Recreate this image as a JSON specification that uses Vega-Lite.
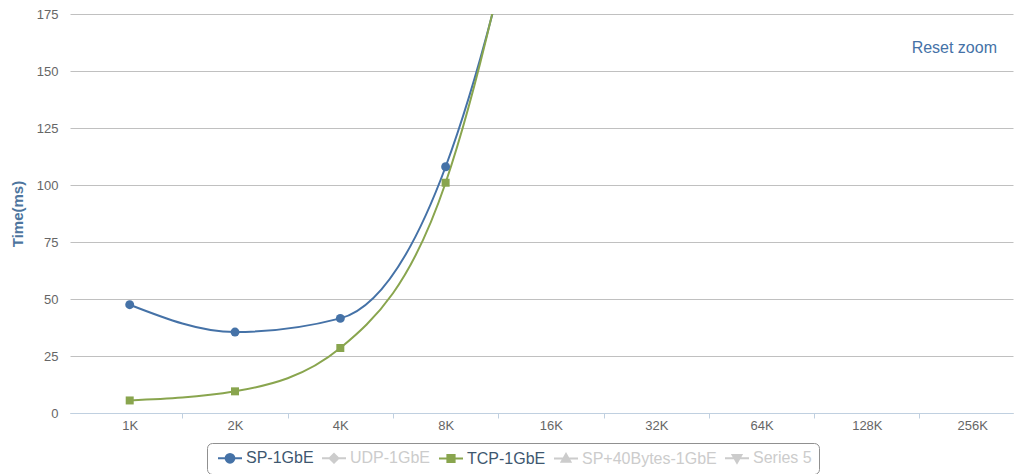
{
  "$schema": "https://vega.github.io/schema/vega-lite/v6.json",
  "width": 943,
  "height": 399,
  "autosize": {"type": "none"},
  "padding": {"left": 70, "top": 14, "right": 3, "bottom": 61},
  "background": "white",
  "title": {"text": "Reset zoom", "orient": "top", "anchor": "end", "frame": "group", "offset": 0, "dy": 61, "dx": -16, "baseline": "alphabetic", "fontSize": 16, "fontWeight": "normal", "color": "#4572A7", "font": "Liberation Sans"},
  "config": {"view": {"stroke": null}},
  "data": {"values": [
    {"series": "SP-1GbE", "kb": 1, "time": 47.5},
    {"series": "SP-1GbE", "kb": 2, "time": 35.5},
    {"series": "SP-1GbE", "kb": 4, "time": 41.5},
    {"series": "SP-1GbE", "kb": 8, "time": 108},
    {"series": "SP-1GbE", "kb": 16, "time": 290},
    {"series": "SP-1GbE", "kb": 32, "time": 580},
    {"series": "SP-1GbE", "kb": 64, "time": 1160},
    {"series": "SP-1GbE", "kb": 128, "time": 2320},
    {"series": "SP-1GbE", "kb": 256, "time": 4640},
    {"series": "TCP-1GbE", "kb": 1, "time": 5.5},
    {"series": "TCP-1GbE", "kb": 2, "time": 9.5},
    {"series": "TCP-1GbE", "kb": 4, "time": 28.5},
    {"series": "TCP-1GbE", "kb": 8, "time": 101},
    {"series": "TCP-1GbE", "kb": 16, "time": 300},
    {"series": "TCP-1GbE", "kb": 32, "time": 600},
    {"series": "TCP-1GbE", "kb": 64, "time": 1200},
    {"series": "TCP-1GbE", "kb": 128, "time": 2400},
    {"series": "TCP-1GbE", "kb": 256, "time": 4800}
  ]},
  "encoding": {
    "y": {"field": "time", "type": "quantitative", "scale": {"domain": [0, 175], "nice": false},
      "axis": {"values": [0, 25, 50, 75, 100, 125, 150, 175], "title": "Time(ms)", "titleColor": "#4d759e", "titleFont": "Liberation Sans", "titleFontSize": 15, "titleFontWeight": "bold", "titlePadding": 11,
        "labelFont": "Liberation Sans", "labelFontSize": 13, "labelColor": "#666666", "labelPadding": 12, "ticks": false, "domain": false, "grid": true, "gridColor": "#C0C0C0", "gridWidth": 1}},
    "color": {"field": "series", "type": "nominal",
      "scale": {"domain": ["SP-1GbE", "UDP-1GbE", "TCP-1GbE", "SP+40Bytes-1GbE", "Series 5"], "range": ["#4572A7", "#cccccc", "#89A54E", "#cccccc", "#cccccc"]},
      "legend": {"orient": "none", "legendX": 137, "legendY": 429, "direction": "horizontal", "columns": 5, "title": null,
        "strokeColor": "#909090", "cornerRadius": 5, "padding": 7, "fillColor": "white",
        "labelFont": "Liberation Sans", "labelFontSize": 16, "labelOffset": 16, "columnPadding": 4, "symbolSize": 64, "symbolStrokeWidth": 2,
        "encoding": {
          "symbols": {
            "shape": {"value": {"expr": "datum.value === 'SP-1GbE' ? 'M-1,0H5M0.9,0A1.1,1.1 0 1,1 3.1,0A1.1,1.1 0 1,1 0.9,0Z' : datum.value === 'UDP-1GbE' ? 'M-1,0H5M2,-1.1L3.1,0L2,1.1L0.9,0Z' : datum.value === 'TCP-1GbE' ? 'M-1,0H5M1.1,-0.9H2.9V0.9H1.1Z' : datum.value === 'SP+40Bytes-1GbE' ? 'M-1,0H5M2,-1.1L3.1,0.8H0.9Z' : 'M-1,0H5M2,1.1L3.1,-0.8H0.9Z'"}},
            "fill": {"value": {"expr": "scale('color', datum.value)"}},
            "stroke": {"value": {"expr": "scale('color', datum.value)"}},
            "strokeWidth": {"value": 2},
            "opacity": {"value": 1}
          },
          "labels": {
            "fill": {"value": {"expr": "(datum.value === 'SP-1GbE' || datum.value === 'TCP-1GbE') ? '#3E576F' : '#CCCCCC'"}}
          }
        }
      }}
  },
  "layer": [
    {"mark": {"type": "line", "interpolate": "monotone", "strokeWidth": 2, "clip": true},
     "encoding": {"x": {"field": "kb", "type": "quantitative", "scale": {"type": "log", "base": 2, "domain": [0.675, 335], "nice": false, "zero": false},
       "axis": {"values": [1, 2, 4, 8, 16, 32, 64, 128, 256], "labelExpr": "datum.value + 'K'", "title": null, "grid": false, "ticks": false, "domain": true, "domainColor": "#C0D0E0", "domainWidth": 1,
         "labelFont": "Liberation Sans", "labelFontSize": 13, "labelColor": "#666666", "labelPadding": 6, "labelFlush": false, "labelOverlap": false}}}},
    {"transform": [{"filter": "datum.series === 'SP-1GbE'"}],
     "mark": {"type": "point", "shape": "circle", "filled": true, "size": 80, "opacity": 1, "clip": true},
     "encoding": {"x": {"field": "kb", "type": "quantitative",
       "axis": {"values": [1.41421, 2.82843, 5.65685, 11.3137, 22.6274, 45.2548, 90.5097, 181.019], "labels": false, "title": null, "grid": false, "ticks": true, "tickColor": "#C0D0E0", "tickSize": 5, "domain": false, "orient": "bottom"}}}},
    {"transform": [{"filter": "datum.series === 'TCP-1GbE'"}],
     "mark": {"type": "point", "shape": "square", "filled": true, "size": 64, "opacity": 1, "clip": true},
     "encoding": {"x": {"field": "kb", "type": "quantitative", "axis": null}}}
  ],
  "resolve": {"axis": {"x": "independent"}}
}
